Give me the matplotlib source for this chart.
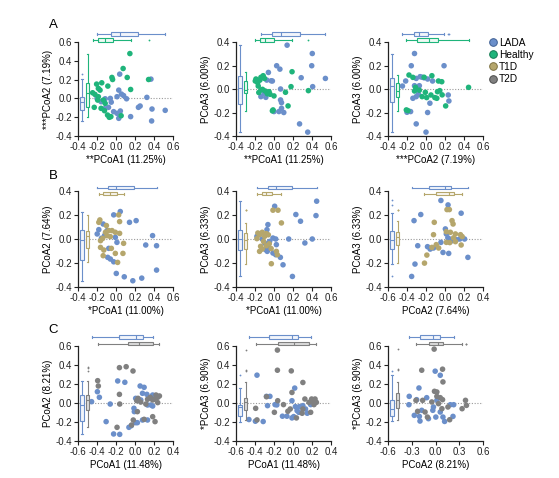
import matplotlib
matplotlib.use("Agg")
import matplotlib.pyplot as plt
from matplotlib.lines import Line2D
from matplotlib.ticker import FormatStrFormatter
import numpy as np

plt.rcParams['font.family'] = ['Liberation Sans', 'DejaVu Sans']
plt.rcParams['axes.unicode_minus'] = False

# ---------------- data (x, y) per panel and group ----------------
A1_LADA = [(0.039,0.258),(0.368,0.205),(0.029,0.088),(0.057,0.046),(0.011,0.018),(0.111,-0.004),(0.325,0.011),
           (0.379,-0.113),(0.518,-0.127),(0.254,-0.081),(0.236,-0.095),(0.046,-0.134),(0.011,-0.159),(-0.025,-0.141),
           (0.029,-0.212),(0.154,-0.194),(0.375,-0.24),(-0.114,-0.004),(-0.157,-0.035),(-0.079,-0.095),(-0.05,-0.04),
           (-0.12,-0.11),(-0.2,0.0),(-0.06,0.0),(0.08,0.03)]
A1_HEALTHY = [(0.146,0.477),(0.075,0.318),(-0.043,0.223),(-0.036,0.201),(0.118,0.223),(0.343,0.201),(-0.204,0.152),
              (-0.15,0.166),(-0.086,0.131),(-0.186,0.106),(0.154,0.095),(-0.246,0.06),(-0.221,0.042),(-0.168,0.088),
              (-0.186,0.018),(-0.132,-0.018),(-0.229,-0.095),(-0.157,-0.106),(-0.121,-0.131),(-0.089,-0.177),
              (-0.071,-0.201),(-0.054,-0.194),(0.054,-0.184),(-0.114,-0.053),(-0.193,-0.018)]
A2_LADA = [(0.138,0.373),(0.403,0.302),(0.397,0.198),(0.028,0.198),(0.062,0.169),(0.286,0.096),(0.541,0.09),
           (-0.059,0.141),(-0.076,0.076),(-0.017,0.068),(0.407,0.02),(0.069,0.0),(-0.103,-0.037),(-0.138,-0.065),
           (-0.086,-0.071),(0.069,-0.093),(0.079,-0.116),(0.079,-0.164),(0.052,-0.192),(0.103,-0.2),(0.0,-0.192),
           (0.269,-0.297),(0.355,-0.367),(-0.03,0.07)]
A2_HEALTHY = [(0.19,0.147),(-0.114,0.113),(-0.19,0.085),(-0.148,0.076),(-0.197,0.068),(-0.172,0.054),(-0.166,0.025),
              (-0.121,-0.003),(-0.138,-0.008),(-0.093,-0.017),(-0.052,-0.023),(0.0,-0.059),(-0.041,-0.045),(0.179,0.02),
              (0.121,-0.028),(0.362,-0.014),(0.148,-0.144),(-0.01,-0.178),(-0.017,-0.186),(-0.138,0.099),(-0.1,0.09),
              (-0.16,-0.03),(-0.07,-0.04)]
A3_LADA = [(-0.121,0.302),(-0.155,0.198),(0.19,0.198),(-0.214,0.068),(-0.103,0.09),(-0.062,0.105),(-0.04,0.1),
           (-0.02,0.095),(0.017,0.085),(0.069,0.068),(-0.121,0.028),(-0.07,0.028),(-0.079,-0.045),(-0.103,-0.065),
           (-0.138,-0.079),(0.234,-0.051),(0.041,-0.121),(0.017,-0.2),(-0.162,-0.192),(-0.2,-0.198),(-0.103,-0.297),
           (0.0,-0.367),(-0.248,0.025),(0.241,-0.102)]
A3_HEALTHY = [(-0.179,0.119),(-0.138,0.099),(0.062,0.113),(0.131,0.068),(0.166,0.062),(0.448,0.014),(-0.121,-0.017),
              (-0.07,-0.01),(-0.007,-0.028),(0.052,-0.051),(0.121,-0.023),(0.145,-0.014),(0.093,-0.073),(0.007,-0.073),
              (0.114,-0.079),(0.207,-0.144),(-0.041,-0.065),(-0.207,-0.178),(-0.19,-0.184),(-0.11,0.014),(0.17,-0.05),
              (-0.02,0.1)]
B1_LADA = [(0.045,0.229),(-0.024,0.201),(0.142,0.139),(0.212,0.153),(0.385,0.028),(0.427,-0.056),(0.313,-0.05),
           (0.427,-0.259),(0.271,-0.326),(0.177,-0.348),(0.087,-0.315),(0.003,-0.287),(-0.076,-0.078),(0.01,-0.028),
           (-0.007,0.014),(-0.135,0.125),(-0.181,0.078),(-0.198,0.042),(-0.094,0.07),(-0.153,0.006),(-0.087,-0.153),
           (-0.059,-0.167),(-0.024,-0.19),(-0.12,0.03)]
B1_T1D = [(-0.17,0.159),(-0.181,0.139),(0.028,0.201),(0.038,0.145),(-0.101,0.112),(-0.076,0.07),(-0.042,0.07),
          (-0.007,0.056),(-0.111,0.056),(-0.094,0.028),(-0.163,-0.014),(-0.14,0.005),(0.038,0.047),(-0.128,-0.092),
          (-0.135,-0.139),(-0.007,-0.12),(0.08,-0.036),(0.073,-0.12),(0.017,-0.195),(-0.049,-0.078),(-0.163,-0.07),
          (-0.06,0.02)]
B2_LADA = [(0.449,0.315),(0.007,0.273),(0.23,0.204),(0.442,0.195),(0.279,0.148),(-0.064,0.12),(-0.074,0.078),
           (-0.18,0.022),(-0.124,0.0),(-0.011,0.008),(0.018,0.0),(0.155,0.0),(0.403,0.0),(0.325,-0.033),(-0.046,-0.02),
           (-0.099,-0.033),(0.025,-0.047),(-0.088,-0.089),(-0.053,-0.075),(-0.011,-0.117),(0.018,-0.131),
           (0.067,-0.153),(0.095,-0.215),(0.194,-0.312),(-0.071,-0.103)]
B2_T1D = [(-0.011,0.24),(0.042,0.24),(0.078,0.134),(-0.17,0.05),(-0.152,0.036),(-0.124,0.056),(-0.081,0.045),
          (-0.099,0.022),(-0.18,0.003),(-0.141,-0.061),(-0.124,-0.084),(-0.152,-0.103),(-0.081,-0.056),(-0.05,-0.04),
          (-0.03,-0.08),(0.025,-0.103),(0.035,-0.131),(-0.028,-0.206),(-0.11,-0.02),(-0.06,0.035)]
B3_LADA = [(-0.043,0.321),(0.032,0.284),(-0.255,0.204),(-0.326,0.153),(0.17,0.215),(0.004,0.084),(-0.287,-0.056),
           (-0.316,-0.209),(-0.351,-0.312),(-0.184,-0.064),(-0.156,-0.084),(-0.121,-0.075),(-0.043,-0.028),
           (-0.021,-0.112),(0.039,-0.12),(0.046,0.0),(0.121,-0.006),(0.156,0.0),(0.206,0.0),(0.241,-0.153),
           (0.074,-0.014),(0.014,0.042),(0.03,0.01)]
B3_T1D = [(0.021,0.245),(0.046,0.245),(0.074,0.153),(-0.113,0.139),(0.085,0.125),(0.014,0.061),(0.057,0.056),
          (0.11,0.042),(0.163,0.036),(0.181,0.02),(-0.121,0.036),(-0.092,-0.047),(-0.138,-0.07),(-0.067,-0.075),
          (0.014,-0.028),(0.05,-0.03),(0.11,-0.022),(0.17,-0.05),(-0.191,-0.134),(-0.216,-0.201),(0.09,0.01)]
C1_LADA = [(-0.182,0.232),(-0.107,0.218),(-0.396,0.119),(-0.375,0.06),(-0.457,0.014),(-0.261,-0.011),(-0.304,-0.196),
           (-0.225,-0.326),(-0.161,-0.33),(-0.064,-0.256),(-0.039,-0.239),(0.007,-0.207),(0.025,-0.207),(0.054,0.179),
           (0.096,0.165),(0.079,0.102),(0.125,0.091),(0.186,0.084),(0.007,0.049),(0.061,0.032),(-0.011,-0.056),
           (-0.007,-0.091),(0.132,-0.021),(0.168,-0.021),(0.079,-0.179),(0.132,-0.179),(0.186,-0.032)]
C1_T2D = [(-0.393,0.235),(-0.386,0.179),(-0.164,0.372),(-0.093,0.382),(-0.021,0.337),(-0.164,0.091),(-0.161,-0.011),
          (-0.189,-0.256),(-0.036,-0.232),(-0.018,-0.179),(0.025,-0.091),(0.018,0.025),(0.032,0.049),(0.132,0.039),
          (0.161,0.06),(0.221,0.084),(0.239,0.06),(0.257,0.074),(0.204,0.039),(0.186,0.032),(0.239,0.004),
          (0.114,-0.011),(0.096,-0.172),(0.186,-0.144),(0.211,-0.196),(0.06,0.01)]
C2_LADA = [(-0.379,0.293),(0.018,0.157),(-0.243,0.07),(-0.279,0.07),(-0.268,-0.028),(-0.189,-0.017),(-0.011,0.024),
           (-0.464,-0.174),(-0.396,-0.192),(-0.314,-0.195),(-0.111,-0.139),(-0.064,-0.139),(0.007,-0.143),
           (0.043,-0.08),(0.068,-0.038),(0.104,-0.028),(0.132,-0.063),(0.186,-0.017),(0.15,-0.108),(0.025,-0.038),
           (-0.011,-0.157),(0.061,-0.098),(-0.17,-0.02)]
C2_T2D = [(-0.164,0.557),(-0.164,0.345),(-0.018,0.338),(0.104,0.216),(-0.011,0.111),(-0.279,0.066),(-0.161,0.024),
          (-0.393,-0.056),(-0.379,-0.178),(-0.1,-0.017),(-0.196,-0.098),(-0.054,-0.087),(-0.029,-0.063),
          (0.036,-0.157),(0.096,-0.108),(0.186,-0.098),(0.211,0.017),(0.196,0.042),(0.232,0.042),(0.246,0.007),
          (0.168,0.007),(0.125,0.042),(0.104,-0.063),(0.221,-0.017)]
C3_LADA = [(-0.004,0.335),(0.06,0.292),(-0.209,0.158),(-0.332,0.07),(-0.238,0.035),(-0.336,-0.018),(-0.268,-0.13),
           (-0.204,-0.141),(-0.174,-0.077),(-0.196,-0.19),(-0.089,-0.165),(-0.034,-0.077),(-0.026,-0.042),
           (0.017,0.028),(0.06,-0.095),(0.094,-0.148),(0.115,-0.194),(0.187,-0.018),(0.23,-0.018),(0.221,-0.141),
           (0.004,-0.148),(-0.111,0.056)]
C3_T2D = [(-0.017,0.567),(-0.174,0.345),(0.089,0.356),(0.094,0.222),(0.017,0.116),(-0.013,0.123),(-0.247,0.028),
          (-0.162,0.028),(0.017,0.07),(0.06,0.056),(0.089,0.035),(0.038,-0.007),(-0.047,0.011),(-0.226,-0.088),
          (-0.132,-0.095),(-0.102,-0.148),(0.157,-0.042),(0.179,-0.176),(0.379,0.028),(0.391,-0.025),(0.336,-0.06),
          (0.081,-0.06)]

GROUPS = ['LADA', 'Healthy', 'T1D', 'T2D']
COLORS = {'LADA': '#6b8fca', 'Healthy': '#1fb47b', 'T1D': '#b5a66c', 'T2D': '#808080'}
EDGES = {'LADA': '#3e5f93', 'Healthy': '#137a52', 'T1D': '#7d7142', 'T2D': '#4a4a4a'}
FILLS = {'LADA': '#f2f5fb', 'Healthy': '#eefaf4', 'T1D': '#f7f5ee', 'T2D': '#dcdcdc'}

XLABELS = ['**PCoA1 (11.25%)', '**PCoA1 (11.25%)', '***PCoA2 (7.19%)',
           '*PCoA1 (11.00%)', '*PCoA1 (11.00%)', 'PCoA2 (7.64%)',
           'PCoA1 (11.48%)', 'PCoA1 (11.48%)', 'PCoA2 (8.21%)']
YLABELS = ['***PCoA2 (7.19%)', 'PCoA3 (6.00%)', 'PCoA3 (6.00%)',
           'PCoA2 (7.64%)', 'PCoA3 (6.33%)', 'PCoA3 (6.33%)',
           'PCoA2 (8.21%)', '*PCoA3 (6.90%)', '*PCoA3 (6.90%)']
ROW_LETTERS = ['A', 'B', 'C']

panels = [
    (('LADA', A1_LADA), ('Healthy', A1_HEALTHY), (-0.4, 0.6, 0.2), (-0.4, 0.6, 0.2)),
    (('LADA', A2_LADA), ('Healthy', A2_HEALTHY), (-0.4, 0.6, 0.2), (-0.4, 0.4, 0.2)),
    (('LADA', A3_LADA), ('Healthy', A3_HEALTHY), (-0.4, 0.6, 0.2), (-0.4, 0.4, 0.2)),
    (('LADA', B1_LADA), ('T1D', B1_T1D), (-0.4, 0.6, 0.2), (-0.4, 0.4, 0.2)),
    (('LADA', B2_LADA), ('T1D', B2_T1D), (-0.4, 0.6, 0.2), (-0.4, 0.4, 0.2)),
    (('LADA', B3_LADA), ('T1D', B3_T1D), (-0.6, 0.4, 0.2), (-0.4, 0.4, 0.2)),
    (('LADA', C1_LADA), ('T2D', C1_T2D), (-0.6, 0.4, 0.2), (-0.4, 0.6, 0.2)),
    (('LADA', C2_LADA), ('T2D', C2_T2D), (-0.6, 0.4, 0.2), (-0.4, 0.6, 0.2)),
    (('LADA', C3_LADA), ('T2D', C3_T2D), (-0.6, 0.6, 0.3), (-0.4, 0.6, 0.2)),
]

# ---------------- layout (pixels) ----------------
W, H = 559, 478
COL_LEFT = [78, 236, 388]
AX_W = 95
ROW_TOP = [42, 191, 346]
ROW_H = [94, 96, 95]
TOP_BOX_POS = [(1.085, 1.02), (1.035, 0.972), (1.095, 1.024)]
LEFT_BOX_POS = (0.04, 0.10)
LETTER_Y = [25, 176, 330]

fig = plt.figure(figsize=(W / 100, H / 100), dpi=100)


def do_boxplot(axb, data, pos, width, horizontal, groups):
    kw = dict(positions=list(pos), widths=width, patch_artist=True, manage_ticks=False, whis=1.5)
    try:
        bp = axb.boxplot(data, orientation='horizontal' if horizontal else 'vertical', **kw)
    except TypeError:
        bp = axb.boxplot(data, vert=not horizontal, **kw)
    for i, g in enumerate(groups):
        c = COLORS[g]
        bp['boxes'][i].set_facecolor(FILLS[g])
        bp['boxes'][i].set_edgecolor(c)
        bp['boxes'][i].set_linewidth(0.8)
        bp['medians'][i].set_color(c)
        bp['medians'][i].set_linewidth(0.8)
        for ln in bp['whiskers'][2 * i:2 * i + 2] + bp['caps'][2 * i:2 * i + 2]:
            ln.set_color(c)
            ln.set_linewidth(0.8)
        fl = bp['fliers'][i]
        fl.set_marker('o')
        fl.set_markersize(1.3)
        fl.set_markerfacecolor(c)
        fl.set_markeredgecolor('none')
    for arts in bp.values():
        for a in arts:
            a.set_clip_on(False)


for idx, (g1, g2, xr, yr) in enumerate(panels):
    r, cidx = divmod(idx, 3)
    rect = [COL_LEFT[cidx] / W, 1 - (ROW_TOP[r] + ROW_H[r]) / H, AX_W / W, ROW_H[r] / H]
    ax = fig.add_axes(rect)
    groups = [g1[0], g2[0]]
    pts = [np.array(g1[1]), np.array(g2[1])]
    for g, p in zip(groups, pts):
        ax.scatter(p[:, 0], p[:, 1], s=16, color=COLORS[g], edgecolors='none', zorder=3)
    ax.axhline(0, color='#9a9a9a', ls=(0, (1, 1.5)), lw=0.8, zorder=1)

    for s in ['top', 'right']:
        ax.spines[s].set_visible(False)
    for s in ['left', 'bottom']:
        ax.spines[s].set_linewidth(0.9)
        ax.spines[s].set_color('#222222')
    ax.tick_params(direction='out', length=3, width=0.8, labelsize=7, pad=1.5, colors='#222222')
    xticks = np.round(np.arange(xr[0], xr[1] + 1e-9, xr[2]), 2)
    yticks = np.round(np.arange(yr[0], yr[1] + 1e-9, yr[2]), 2)
    ax.set_xticks(xticks)
    ax.set_yticks(yticks)
    ax.xaxis.set_major_formatter(FormatStrFormatter('%.1f'))
    ax.yaxis.set_major_formatter(FormatStrFormatter('%.1f'))
    ax.set_xlabel(XLABELS[idx], fontsize=7, labelpad=2)
    ax.set_ylabel(YLABELS[idx], fontsize=7, labelpad=1.5)

    # top (horizontal) boxplots of x values
    axt = fig.add_axes(rect, sharex=ax, label='top%d' % idx)
    axt.set_ylim(0, 1)
    axt.set_axis_off()
    axt.patch.set_visible(False)
    do_boxplot(axt, [p[:, 0] for p in pts], TOP_BOX_POS[r], 0.035, True, groups)

    # left (vertical) boxplots of y values
    axl = fig.add_axes(rect, sharey=ax, label='left%d' % idx)
    axl.set_xlim(0, 1)
    axl.set_axis_off()
    axl.patch.set_visible(False)
    do_boxplot(axl, [p[:, 1] for p in pts], LEFT_BOX_POS, 0.042, False, groups)

    ax.set_xlim(xr[0], xr[1])
    ax.set_ylim(yr[0], yr[1])
    axt.set_ylim(0, 1)
    axl.set_xlim(0, 1)

for r, letter in enumerate(ROW_LETTERS):
    fig.text(53 / W, 1 - LETTER_Y[r] / H, letter, fontsize=9.5, ha='center', va='center')

handles = [Line2D([], [], marker='o', ls='none', ms=5.5, markerfacecolor=COLORS[g],
                  markeredgecolor=EDGES[g], markeredgewidth=0.7) for g in GROUPS]
fig.legend(handles, GROUPS, loc='upper left', bbox_to_anchor=(488 / W, 1 - 37.5 / H), frameon=False,
           fontsize=7.3, handletextpad=0.1, labelspacing=0.22, borderaxespad=0, borderpad=0,
           handlelength=1.0)

fig.savefig('out.png', dpi=100)
